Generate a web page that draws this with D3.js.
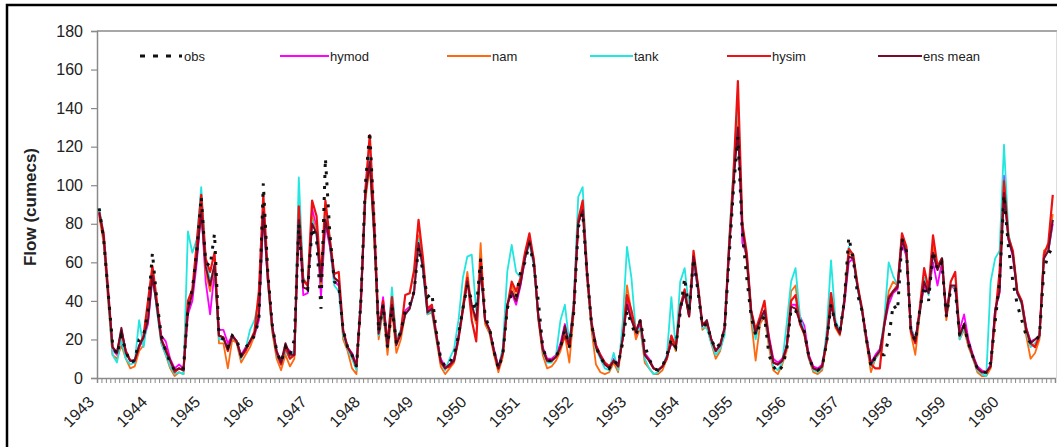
<!DOCTYPE html>
<html>
<head>
<meta charset="utf-8">
<script src="https://cdn.jsdelivr.net/npm/d3@7"></script>
<style>
  body { margin: 0; background: #fff; }
  svg { display: block; }
  text { font-family: "Liberation Sans", Arial, sans-serif; fill: #222; }
</style>
</head>
<body>
<svg id="chart" width="1057" height="447"></svg>
<script>
// ---- data (monthly flow, Jan 1943 - Dec 1960) ----
const years = [1943,1944,1945,1946,1947,1948,1949,1950,1951,1952,1953,1954,1955,1956,1957,1958,1959,1960];
const yTicks = [0,20,40,60,80,100,120,140,160,180];
const seriesNames = ["obs","hymod","nam","tank","hysim","ens mean"];

const obs = [
 88,72,45,18,12,22,14,8,9,20,22,35,
 65,40,22,14,8,4,5,5,36,46,66,94,
 60,58,75,22,20,16,22,20,12,16,18,22,
 30,101,55,28,14,8,16,12,20,80,48,46,
 78,72,36,114,75,50,48,25,16,12,6,40,
 100,128,80,24,38,16,37,18,24,35,38,45,
 68,55,42,44,24,10,6,8,12,22,36,48,
 40,35,62,32,26,14,5,12,36,44,42,55,
 60,70,58,40,16,9,9,11,16,25,16,34,
 78,86,54,28,16,11,7,5,9,7,18,35,
 28,22,30,17,10,5,4,6,12,20,16,34,
 52,34,62,45,27,28,20,15,18,25,62,98,
 125,75,52,32,22,28,32,12,6,3,6,14,
 36,35,30,24,11,5,4,6,18,38,28,24,
 40,73,62,43,35,20,6,11,12,12,20,38,
 35,72,66,25,19,35,48,40,66,56,60,32,
 46,46,22,27,18,11,5,3,3,8,29,50,
 95,68,50,38,30,22,18,19,22,56,64,68];

const hymod = [
 85,72,45,15,12,25,14,9,8,16,20,28,
 52,38,22,19,10,5,7,5,33,40,60,88,
 50,33,55,25,25,18,22,19,12,16,18,22,
 30,85,50,27,14,9,16,14,12,85,43,44,
 88,78,42,80,68,50,48,24,16,13,7,38,
 95,115,80,24,42,17,40,18,23,35,37,44,
 72,58,35,37,22,10,6,7,10,22,36,50,
 36,30,58,30,25,15,6,14,38,44,38,48,
 62,72,60,33,16,10,10,12,18,28,18,36,
 82,90,55,28,17,12,8,6,10,7,20,40,
 32,22,28,13,10,5,4,6,11,18,18,35,
 45,33,60,46,28,29,20,14,17,25,66,102,
 140,70,64,35,24,30,35,22,10,8,10,17,
 38,38,32,27,12,6,5,7,20,40,29,24,
 38,60,62,47,35,21,8,12,15,27,38,44,
 46,70,63,26,20,34,48,44,60,48,60,34,
 48,46,25,33,20,12,6,4,3,7,36,44,
 105,72,63,44,40,26,19,20,22,63,66,80];

const nam = [
 84,70,40,12,10,17,10,5,6,14,17,38,
 55,36,18,12,5,1,3,2,38,44,66,88,
 55,45,58,18,18,5,20,18,8,12,16,22,
 35,90,50,24,10,4,12,6,10,88,50,48,
 84,76,48,85,72,52,50,20,14,5,2,42,
 92,110,72,20,35,12,35,13,20,33,36,45,
 74,60,33,34,20,6,2,5,8,20,38,55,
 36,28,70,28,23,12,3,11,36,48,42,50,
 64,72,62,30,12,5,6,9,14,22,8,34,
 80,88,52,25,7,3,2,3,8,3,22,48,
 34,20,26,8,5,2,2,4,10,20,14,38,
 44,32,64,48,25,27,18,10,14,24,68,104,
 135,80,60,30,9,28,32,16,4,2,7,14,
 45,48,28,22,10,3,2,4,18,44,26,22,
 40,65,63,48,34,18,3,10,13,28,45,50,
 48,73,66,23,12,33,52,46,68,58,62,30,
 47,48,20,25,16,10,3,1,1,5,34,48,
 100,74,65,45,38,22,10,13,20,66,68,85];

const tank = [
 88,74,42,12,8,20,10,7,8,30,16,32,
 55,35,18,12,6,2,3,2,76,65,72,99,
 62,50,58,20,20,14,21,19,10,15,25,30,
 40,88,52,25,12,7,14,10,15,104,52,48,
 82,74,50,84,70,48,45,22,15,10,4,44,
 98,120,78,22,36,16,47,20,25,33,36,45,
 72,55,33,35,21,8,4,10,15,30,52,63,
 64,35,55,30,24,14,5,16,55,69,55,52,
 62,70,58,32,14,8,8,12,30,38,18,40,
 94,99,56,27,15,10,5,4,13,4,28,68,
 52,24,26,10,5,2,3,6,12,42,15,50,
 57,36,62,45,26,26,18,12,15,22,70,108,
 145,78,62,32,20,30,34,18,6,4,8,28,
 50,57,32,24,10,4,3,5,24,61,30,24,
 42,68,62,46,34,19,6,10,14,30,60,53,
 48,72,66,26,20,33,52,43,64,56,62,32,
 48,47,20,26,17,10,4,2,1,50,62,66,
 121,75,64,44,38,24,16,18,21,64,66,82];

const hysim = [
 86,75,46,16,13,24,14,9,9,16,22,40,
 58,40,20,15,9,3,5,4,40,46,70,95,
 62,55,65,22,21,14,22,19,11,14,19,24,
 45,95,55,26,13,7,16,10,12,89,51,48,
 92,84,52,92,72,54,55,25,16,12,6,40,
 97,126,82,25,40,18,42,18,24,43,44,56,
 82,62,36,38,23,8,5,6,9,20,35,52,
 30,19,62,30,25,14,5,13,37,50,45,52,
 65,75,61,32,15,9,9,11,16,22,16,38,
 82,92,55,29,17,12,8,6,9,6,20,43,
 35,24,30,12,9,5,4,6,10,22,16,37,
 46,32,66,48,28,29,20,14,17,26,68,105,
 154,80,65,35,25,32,40,20,8,7,9,16,
 40,43,28,23,11,5,4,6,19,44,27,23,
 40,67,64,48,36,20,7,5,5,28,42,45,
 48,75,68,24,18,36,57,46,74,58,62,32,
 50,55,22,28,18,11,5,3,3,6,32,55,
 102,73,66,45,40,26,18,16,22,64,70,95];

const ensMean = [
 86,73,44,16,13,26,13,9,9,17,21,30,
 53,37,20,14,9,4,5,4,35,44,63,86,
 58,48,59,22,21,15,22,19,11,15,19,23,
 32,86,52,27,14,8,18,12,12,82,47,46,
 80,75,50,82,70,52,50,24,16,12,6,40,
 95,112,75,23,38,16,38,17,23,33,36,45,
 70,57,34,36,22,9,5,7,9,21,36,50,
 38,30,57,30,25,14,5,13,38,45,40,49,
 62,71,60,32,15,9,9,11,16,27,16,36,
 80,87,53,28,16,11,7,5,9,6,20,38,
 30,24,30,12,9,5,4,6,11,18,16,36,
 44,32,63,47,27,30,20,14,17,26,65,100,
 130,78,62,34,23,30,35,20,8,7,9,16,
 37,36,29,23,11,5,4,6,19,38,28,23,
 40,63,62,47,35,20,7,11,14,27,41,45,
 47,72,65,25,19,34,50,44,65,56,62,32,
 48,48,22,28,18,11,5,3,3,6,35,45,
 96,72,64,44,39,25,18,20,22,62,66,82];

const colors = { "obs":"#111111", "hymod":"#ff00ff", "nam":"#ff6a10", "tank":"#22e6e0", "hysim":"#ee1111", "ens mean":"#7a0a2a" };

// ---- layout ----
const svg = d3.select("#chart");
const L = 97, R = 1055, T = 31, B = 378;
const nMonths = years.length * 12;
const x = d3.scaleLinear().domain([0, nMonths]).range([L, R]);
const y = d3.scaleLinear().domain([0, 180]).range([B, T]);

// outer frame
svg.append("rect").attr("x", 7).attr("y", 5).attr("width", 1070).attr("height", 460)
  .attr("fill", "none").attr("stroke", "#000").attr("stroke-width", 2.5);

// plot border (top/right)
svg.append("line").attr("x1", L).attr("x2", R + 3).attr("y1", T).attr("y2", T).attr("stroke", "#8a8a8a").attr("stroke-width", 1.5);
svg.append("line").attr("x1", R + 2).attr("x2", R + 2).attr("y1", T).attr("y2", B).attr("stroke", "#bbb").attr("stroke-width", 1);

// y axis
const yAxis = svg.append("g").attr("transform", `translate(${L},0)`)
  .call(d3.axisLeft(y).tickValues(yTicks).tickSize(6).tickPadding(8).tickFormat(d3.format("d")));
yAxis.select(".domain").attr("stroke", "#8a8a8a").attr("stroke-width", 1.5);
yAxis.selectAll(".tick line").attr("stroke", "#8a8a8a").attr("stroke-width", 1.2);
yAxis.selectAll(".tick text").style("font-size", "16px").attr("fill", "#222");

// x axis with monthly ticks
const xAxis = svg.append("g").attr("transform", `translate(0,${B})`)
  .call(d3.axisBottom(x).tickValues(d3.range(0, nMonths + 1)).tickSize(5).tickFormat(""));
xAxis.select(".domain").attr("stroke", "#8a8a8a").attr("stroke-width", 1.5);
xAxis.selectAll(".tick line").attr("stroke", "#8a8a8a").attr("stroke-width", 1);

// year labels
svg.append("g").selectAll("text").data(years).join("text")
  .attr("transform", (d, k) => `translate(${x(k * 12) - 6},399) rotate(-45)`)
  .attr("text-anchor", "end").attr("dy", "0.35em")
  .style("font-size", "16px")
  .text(d => d);

// y label
svg.append("text")
  .attr("transform", `translate(30,207) rotate(-90)`)
  .attr("text-anchor", "middle").attr("dy", "0.35em")
  .style("font-size", "17px").style("font-weight", "bold")
  .text("Flow (cumecs)");

// lines
const line = d3.line().x((d, i) => x(i + 0.5)).y(d => y(d));
const drawOrder = [
  ["hymod", hymod, 1.8],
  ["nam", nam, 1.8],
  ["tank", tank, 1.8],
  ["hysim", hysim, 2.2],
  ["ens mean", ensMean, 2.0]
];
drawOrder.forEach(([name, vals, w]) => {
  svg.append("path").datum(vals).attr("d", line)
    .attr("fill", "none").attr("stroke", colors[name]).attr("stroke-width", w)
    .attr("stroke-linejoin", "round");
});
svg.append("path").datum(obs).attr("d", line)
  .attr("fill", "none").attr("stroke", colors["obs"]).attr("stroke-width", 3)
  .attr("stroke-dasharray", "3,8");

// legend
const legendItems = [
  { name: "obs", x1: 140, x2: 182, tx: 184 },
  { name: "hymod", x1: 280, x2: 329, tx: 330 },
  { name: "nam", x1: 447, x2: 491, tx: 492 },
  { name: "tank", x1: 590, x2: 633, tx: 634 },
  { name: "hysim", x1: 727, x2: 771, tx: 772 },
  { name: "ens mean", x1: 878, x2: 922, tx: 923 }
];
const lg = svg.append("g");
legendItems.forEach(it => {
  const ln = lg.append("line").attr("x1", it.x1).attr("x2", it.x2).attr("y1", 56).attr("y2", 56)
    .attr("stroke", colors[it.name]).attr("stroke-width", it.name === "obs" ? 3 : 1.8);
  if (it.name === "obs") ln.attr("stroke-dasharray", "5,8");
  lg.append("text").attr("x", it.tx).attr("y", 56).attr("dy", "0.35em")
    .style("font-size", "13px").text(it.name);
});
</script>
</body>
</html>
